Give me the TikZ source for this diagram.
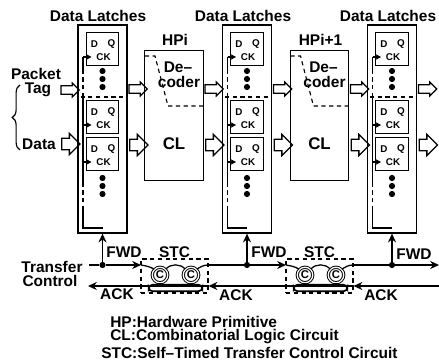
\documentclass[tikz,border=0pt]{standalone}
\usepackage{fontspec}
\setmainfont{Liberation Sans}
\usepackage{tikz}
\usetikzlibrary{positioning,arrows.meta,shapes.arrows,decorations.pathreplacing}

\tikzset{
  lab/.style={font=\bfseries\fontsize{11}{11}\selectfont, inner sep=0pt},
  tinylab/.style={font=\bfseries\fontsize{7}{7}\selectfont, inner sep=0pt},
  latchbox/.style={draw, line width=0.8pt, minimum width=23pt, minimum height=23pt, inner sep=0pt},
  blockbox/.style={draw, line width=0.8pt, inner sep=0pt},
  bullet/.style={circle, fill, inner sep=0pt, minimum size=4.4pt},
  bigarrow/.style={single arrow, draw, line width=0.9pt, inner xsep=0pt, inner ysep=3.6pt,
    minimum height=13pt, single arrow head extend=3.5pt, single arrow tip angle=90,
    single arrow head indent=0pt},
  smallarrow/.style={bigarrow, inner ysep=2.5pt, single arrow head extend=2pt},
  celem/.style={circle, draw, double, double distance=0.9pt, line width=0.7pt, minimum size=11pt,
    inner sep=0pt, font=\bfseries\fontsize{8}{8}\selectfont},
  stcbox/.style={draw, line width=0.8pt, dash pattern=on 3pt off 2.5pt, minimum width=47.6pt,
    minimum height=24.2pt, inner sep=0pt},
  footbox/.style={draw, line width=1.2pt, rounded corners=2.5pt, minimum width=38pt,
    minimum height=4.5pt, inner sep=0pt},
  sigline/.style={line width=1pt},
  dashline/.style={line width=0.8pt, dash pattern=on 3pt off 2.5pt}
}
\newcommand{\latchff}[3]{%
  \node[latchbox] (#1) at (#2,#3) {};
  \node[tinylab] (#1d) at (#2-8,#3-5) {D};
  \node[tinylab] (#1q) at (#2+9,#3-5) {Q};
  \node[tinylab] (#1c) at (#2+1,#3+8) {CK};
  \coordinate (#1k) at (#2-11,#3+8);
}

\begin{document}
\begin{tikzpicture}[x=0.025cm, y=-0.025cm, >={Stealth[length=2.2mm,width=2mm]}]
  \useasboundingbox (0,0) rectangle (439,360);

  % the three latch columns
  \foreach \nm/\xa/\lx in {a/102.5/98, b/247/243, c/392/388} {
    \node[blockbox, minimum width=34.8pt, minimum height=148pt] (blk\nm) at (\xa,129) {};
    \node[lab] (title\nm) at (\lx,16) {Data Latches};
    \latchff{top\nm}{\xa}{49}
    \latchff{mid\nm}{\xa}{117}
    \latchff{low\nm}{\xa}{154}
    \foreach \yy/\id in {71/1,79/2,87/3,178/4,186/5,194/6}
      \node[bullet] (dot\nm\id) at (\xa,\yy) {};
    \coordinate (cke\nm) at (\xa,228);
    \coordinate (cka\nm) at (\xa-19.5,228);
    \coordinate (ckb\nm) at (\xa-19.5,210);
    \coordinate (ckd\nm) at (\xa-19.5,185);
    \coordinate (ckf\nm) at (\xa-19.5,97);
    \coordinate (ckg\nm) at (\xa-19.5,70);
    \coordinate (ckh\nm) at (\xa-19.5,57);
    \coordinate (ckm\nm) at (\xa-19.5,125);
    \coordinate (ckl\nm) at (\xa-19.5,162);
    \draw[line width=0.9pt] (cke\nm) -- (cka\nm) -- (ckb\nm);
    \draw[dashline] (ckb\nm) -- (ckd\nm);
    \draw[line width=0.9pt] (ckd\nm) -- (ckf\nm);
    \draw[dashline] (ckf\nm) -- (ckg\nm);
    \draw[line width=0.9pt] (ckg\nm) -- (ckh\nm);
    \draw[line width=0.8pt, -{Stealth[length=1.4mm,width=1.5mm]}] (ckh\nm) -- (top\nm k);
    \draw[line width=0.8pt, -{Stealth[length=1.4mm,width=1.5mm]}] (ckm\nm) -- (mid\nm k);
    \draw[line width=0.8pt, -{Stealth[length=1.4mm,width=1.5mm]}] (ckl\nm) -- (low\nm k);
    \coordinate (spl\nm) at (\xa-22,97);
    \coordinate (spr\nm) at (\xa+22,97);
    \draw[dashline] (spl\nm) -- (spr\nm);
    % hollow arrows leaving each column
    \node[smallarrow] (outs\nm) at (\xa+33.5,89) {};
    \node[bigarrow] (outb\nm) at (\xa+33.5,145) {};
  }

  % hardware primitives
  \foreach \nm/\xa/\hd in {a/174/HPi, b/319.5/HPi+1} {
    \node[blockbox, minimum width=41.5pt, minimum height=93pt] (hp\nm) at (\xa,115.5) {};
    \node[lab] (hplab\nm) at (\xa+1,40) {\hd};
    \node[lab] (dea\nm) at (\xa+4,67) {De--};
    \node[lab] (deb\nm) at (\xa+5,81.5) {coder};
    \node[lab, font=\bfseries\fontsize{12}{12}\selectfont] (cl\nm) at (\xa,144) {CL};
    \coordinate (dca\nm) at (\xa-29,56);
    \coordinate (dcb\nm) at (\xa-19,56);
    \coordinate (dcc\nm) at (\xa-6,106);
    \coordinate (dcd\nm) at (\xa+29,106);
    \draw[dashline] (dca\nm) -- (dcb\nm) -- (dcc\nm) -- (dcd\nm);
    \node[smallarrow] (hps\nm) at (\xa+38,89) {};
    \node[bigarrow] (hpb\nm) at (\xa+38,145) {};
  }

  % inputs
  \node[smallarrow] (intag) at (68,90) {};
  \node[bigarrow] (indata) at (68,144) {};
  \node[lab] (packet) at (36,74) {Packet};
  \node[lab] (tag) at (38,90) {Tag};
  \node[lab] (data) at (39,144) {Data};
  \coordinate (bra) at (20,150);
  \coordinate (brb) at (20,85);
  \draw[line width=0.8pt, decorate, decoration={brace, amplitude=5.5pt, aspect=0.5}] (bra) -- (brb);

  % transfer control
  \node[lab] (transfer) at (52,266.5) {Transfer};
  \node[lab] (control) at (50,281) {Control};
  \node[bullet] (fwda) at (102.5,265) {};
  \node[bullet] (fwdb) at (247,265) {};
  \node[bullet] (fwdc) at (392,265) {};
  \draw[sigline, ->] (fwda) -- (blka.south);
  \draw[sigline, ->] (fwdb) -- (blkb.south);
  \draw[sigline, ->] (fwdc) -- (blkc.south);
  \foreach \nm/\xa in {a/174.5, b/319.5} {
    \node[stcbox] (stc\nm) at (\xa,276) {};
    \node[lab] (stclab\nm) at (\xa,252) {STC};
    \node[celem] (cla\nm) at (\xa-14.5,275) {C};
    \node[celem] (clb\nm) at (\xa+16.5,275) {C};
    \node[footbox] (foot\nm) at (\xa+1,288) {};
    \draw[line width=3pt] (cla\nm.south) -- (cla\nm.south |- foot\nm.north);
    \draw[line width=3pt] (clb\nm.south) -- (clb\nm.south |- foot\nm.north);
    \coordinate (inw\nm) at (\xa-33.5,265);
    \coordinate (ine\nm) at (\xa+33.5,265);
    \draw[line width=0.9pt] (inw\nm) to[out=-10,in=150] (cla\nm.north west);
    \draw[line width=0.9pt] (cla\nm.north east) to[out=50,in=130] (clb\nm.north west);
    \draw[line width=0.9pt] (clb\nm.north east) to[out=30,in=180] (ine\nm);
  }
  \coordinate (fwdstart) at (89,265);
  \coordinate (fwdend) at (439,265);
  \draw[sigline] (fwdstart) -- (fwda);
  \draw[sigline, ->] (fwda) -- (inwa);
  \draw[sigline] (inea) -- (fwdb);
  \draw[sigline, ->] (fwdb) -- (inwb);
  \draw[sigline] (ineb) -- (fwdc);
  \draw[sigline, ->] (fwdc) -- (fwdend);
  \coordinate (ackstart) at (439,286);
  \coordinate (ackend) at (88,286);
  \draw[sigline, ->] (ackstart) -- (stcb.east |- ackstart);
  \draw[sigline] (stcb.east |- ackstart) -- (stcb.west |- ackstart);
  \draw[sigline, ->] (stcb.west |- ackstart) -- (stca.east |- ackstart);
  \draw[sigline] (stca.east |- ackstart) -- (stca.west |- ackstart);
  \draw[sigline, ->] (stca.west |- ackstart) -- (ackend);
  \node[lab] (fwdlaba) at (124,252) {FWD};
  \node[lab] (fwdlabb) at (269,252) {FWD};
  \node[lab] (fwdlabc) at (414,254) {FWD};
  \node[lab] (acklaba) at (117,294) {ACK};
  \node[lab] (acklabb) at (236,295) {ACK};
  \node[lab] (acklabc) at (381,295) {ACK};

  % key
  \node[lab, anchor=west] (keya) at (110,322) {HP:Hardware Primitive};
  \node[lab, anchor=west] (keyb) at (110,337) {CL:Combinatorial Logic Circuit};
  \node[lab, anchor=west] (keyc) at (101,353) {STC:Self--Timed Transfer Control Circuit};
\end{tikzpicture}
\end{document}
